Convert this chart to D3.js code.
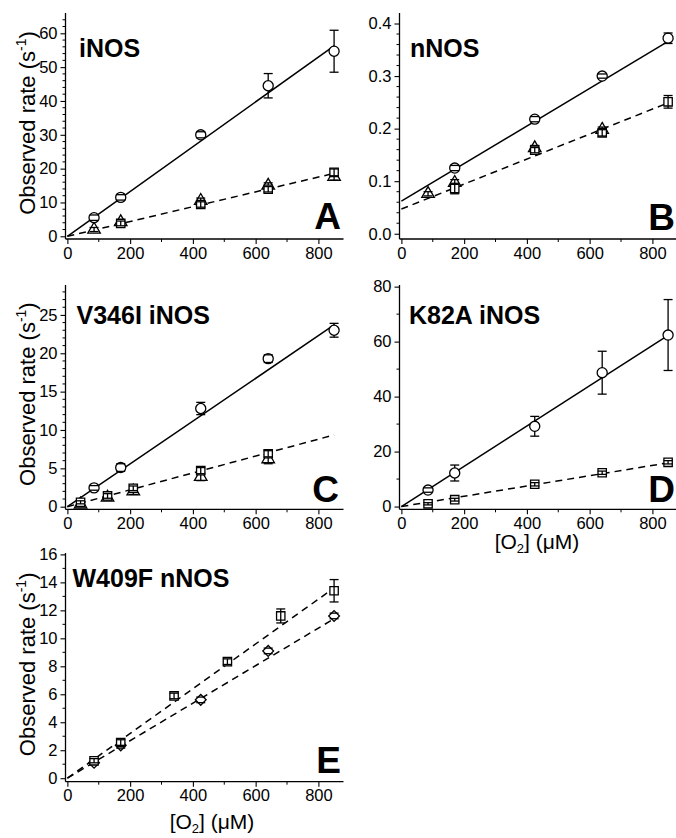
<!DOCTYPE html>
<html><head><meta charset="utf-8">
<script src="https://cdn.jsdelivr.net/npm/d3@7"></script>
<style>
body{margin:0;background:#fff}
svg{display:block}
text{font-family:"Liberation Sans",Arial,Helvetica,sans-serif;fill:#000}
</style>
</head><body>
<svg id="chart" width="676" height="838"></svg>
<script>
// ---------------- DATA ----------------
const xTickValues = [0, 200, 400, 600, 800];
const panelTitles = ["iNOS", "nNOS", "V346I iNOS", "K82A iNOS", "W409F nNOS"];
const panelLetters = ["A", "B", "C", "D", "E"];

// Panel A – iNOS
const A_circ_x = [85, 170, 425, 640, 850];
const A_circ_y = [5.5, 11.5, 30.0, 44.5, 54.7];
const A_circ_e = [0.8, 0.8, 0.9, 3.6, 6.2];
const A_tri_x = [85, 170, 425, 640, 850];
const A_tri_y = [2.0, 4.2, 10.5, 15.0, 17.6];
const A_tri_e = [0.6, 0.6, 0.8, 0.8, 1.0];
const A_sq_x = [170, 425, 640, 850];
const A_sq_y = [3.8, 9.4, 13.9, 18.9];
const A_sq_e = [0.7, 0.8, 0.8, 1.0];
const A_fitSolid = [[0, 0], [850, 56.3]];
const A_fitDash = [[0, 0], [850, 18.6]];

// Panel B – nNOS
const B_circ_x = [170, 425, 640, 850];
const B_circ_y = [0.125, 0.218, 0.300, 0.372];
const B_circ_e = [0.005, 0.005, 0.004, 0.010];
const B_tri_x = [85, 170, 425, 640];
const B_tri_y = [0.076, 0.097, 0.163, 0.198];
const B_tri_e = [0.004, 0.006, 0.005, 0.005];
const B_sq_x = [170, 425, 640, 850];
const B_sq_y = [0.086, 0.159, 0.192, 0.251];
const B_sq_e = [0.010, 0.005, 0.006, 0.012];
const B_fitSolid = [[0, 0.062], [850, 0.366]];
const B_fitDash = [[0, 0.047], [850, 0.249]];

// Panel C – V346I iNOS
const C_circ_x = [85, 170, 425, 640, 850];
const C_circ_y = [2.45, 5.1, 12.8, 19.3, 23.0];
const C_circ_e = [0.3, 0.5, 0.8, 0.5, 0.9];
const C_sq_x = [42, 128, 210, 425, 640];
const C_sq_y = [0.57, 1.4, 2.4, 4.7, 6.9];
const C_sq_e = [0.2, 0.3, 0.3, 0.4, 0.4];
const C_tri_x = [42, 128, 210, 425, 640];
const C_tri_y = [0.3, 1.2, 2.0, 3.9, 6.2];
const C_tri_e = [0.2, 0.3, 0.4, 0.5, 0.6];
const C_fitSolid = [[0, 0], [850, 23.7]];
const C_fitDash = [[0, 0], [850, 9.35]];

// Panel D – K82A iNOS
const D_circ_x = [85, 170, 425, 640, 850];
const D_circ_y = [6.0, 12.2, 29.2, 48.7, 62.4];
const D_circ_e = [0.8, 2.9, 3.6, 7.8, 12.9];
const D_sq_x = [85, 170, 425, 640, 850];
const D_sq_y = [1.0, 2.5, 8.1, 12.3, 16.1];
const D_sq_e = [0.4, 0.5, 0.6, 0.6, 0.6];
const D_fitSolid = [[0, 0], [850, 62.3]];
const D_fitDash = [[0, 0], [850, 15.9]];

// Panel E – W409F nNOS
const E_sq_x = [85, 170, 340, 510, 680, 850];
const E_sq_y = [1.25, 2.55, 5.88, 8.33, 11.6, 13.4];
const E_sq_e = [0.15, 0.2, 0.2, 0.2, 0.5, 0.8];
const E_dia_x = [85, 170, 425, 640, 850];
const E_dia_y = [1.1, 2.35, 5.6, 9.1, 11.6];
const E_dia_e = [0.15, 0.2, 0.2, 0.2, 0.2];
const E_fitDashHi = [[0, 0], [850, 13.6]];
const E_fitDashLo = [[0, 0], [850, 11.4]];

// Axis tick values
const A_yTicks = [0, 10, 20, 30, 40, 50, 60];
const B_yTicks = [0, 0.1, 0.2, 0.3, 0.4];
const C_yTicks = [0, 5, 10, 15, 20, 25];
const D_yTicks = [0, 20, 40, 60, 80];
const E_yTicks = [0, 2, 4, 6, 8, 10, 12, 14, 16];

// ---------------- BUILD ----------------
const zip = (xs, ys, es) => xs.map((x, i) => ({x, y: ys[i], e: es[i]}));

const panels = [
  {title: panelTitles[0], letter: panelLetters[0],
   xr: [65.5, 343.5], yr: [239, 13], yd: [-0.8, 66],
   yTicks: A_yTicks, yMinor: 2, yFmt: d3.format("d"),
   fits: [{pts: A_fitSolid, dash: false}, {pts: A_fitDash, dash: true}],
   series: [
     {shape: "triangle", d: zip(A_tri_x, A_tri_y, A_tri_e)},
     {shape: "square", d: zip(A_sq_x, A_sq_y, A_sq_e)},
     {shape: "circle", d: zip(A_circ_x, A_circ_y, A_circ_e)}],
   titlePos: [79, 57], letterPos: [341, 229], ylab: true, xlab: null},
  {title: panelTitles[1], letter: panelLetters[1],
   xr: [399.5, 677.5], yr: [239, 13], yd: [-0.01, 0.42],
   yTicks: B_yTicks, yMinor: 0.02, yFmt: d3.format(".1f"),
   fits: [{pts: B_fitSolid, dash: false}, {pts: B_fitDash, dash: true}],
   series: [
     {shape: "triangle", d: zip(B_tri_x, B_tri_y, B_tri_e)},
     {shape: "square", d: zip(B_sq_x, B_sq_y, B_sq_e)},
     {shape: "circle", d: zip(B_circ_x, B_circ_y, B_circ_e)}],
   titlePos: [410, 57], letterPos: [675, 230], ylab: false, xlab: null},
  {title: panelTitles[2], letter: panelLetters[2],
   xr: [65.5, 343.5], yr: [509.3, 285], yd: [-0.34, 28.9],
   yTicks: C_yTicks, yMinor: 1, yFmt: d3.format("d"),
   fits: [{pts: C_fitSolid, dash: false}, {pts: C_fitDash, dash: true}],
   series: [
     {shape: "triangle", d: zip(C_tri_x, C_tri_y, C_tri_e)},
     {shape: "square", d: zip(C_sq_x, C_sq_y, C_sq_e)},
     {shape: "circle", d: zip(C_circ_x, C_circ_y, C_circ_e)}],
   titlePos: [76.5, 323.5], letterPos: [339, 502], ylab: true, xlab: null},
  {title: panelTitles[3], letter: panelLetters[3],
   xr: [399.5, 677.5], yr: [509.3, 285], yd: [-1, 80.6],
   yTicks: D_yTicks, yMinor: 10, yFmt: d3.format("d"),
   fits: [{pts: D_fitSolid, dash: false}, {pts: D_fitDash, dash: true}],
   series: [
     {shape: "square", d: zip(D_sq_x, D_sq_y, D_sq_e)},
     {shape: "circle", d: zip(D_circ_x, D_circ_y, D_circ_e)}],
   titlePos: [409, 323.5], letterPos: [675, 501.5], ylab: false, xlab: [537, 549]},
  {title: panelTitles[4], letter: panelLetters[4],
   xr: [65.5, 343.5], yr: [781.7, 553], yd: [-0.25, 16.1],
   yTicks: E_yTicks, yMinor: 1, yFmt: d3.format("d"),
   fits: [{pts: E_fitDashHi, dash: true}, {pts: E_fitDashLo, dash: true}],
   series: [
     {shape: "diamond", d: zip(E_dia_x, E_dia_y, E_dia_e)},
     {shape: "square", d: zip(E_sq_x, E_sq_y, E_sq_e)}],
   titlePos: [72.5, 587], letterPos: [341, 773], ylab: true, xlab: [212, 829]}
];

const svg = d3.select("#chart");
const symbolOf = {
  circle: d3.symbol().type(d3.symbolCircle).size(80),
  triangle: d3.symbol().type(d3.symbolTriangle).size(68),
  square: d3.symbol().type(d3.symbolSquare).size(70),
  diamond: d3.symbol().type(d3.symbolSquare).size(58)
};
const capHalf = 4.5;
const sw = 1.3;

panels.forEach(p => {
  const x = d3.scaleLinear().domain([-6, 880]).range(p.xr);
  const y = d3.scaleLinear().domain(p.yd).range(p.yr);
  const g = svg.append("g");

  // x axis
  const xMinor = d3.range(100, 880, 200);
  const xAxis = g.append("g").attr("transform", `translate(0,${p.yr[0]})`)
    .call(d3.axisBottom(x).tickValues(xTickValues).tickSize(5).tickPadding(3).tickFormat(d3.format("d")));
  xAxis.select(".domain").attr("stroke-width", 1.3).attr("d", `M${p.xr[0]},0H${p.xr[1]}`);
  xAxis.selectAll(".tick line").attr("stroke-width", 1.1);
  xAxis.selectAll(".tick text").attr("font-size", 16.5).attr("font-family", "Liberation Sans, Arial, sans-serif");
  g.append("g").selectAll("line").data(xMinor).join("line")
    .attr("x1", d => x(d)).attr("x2", d => x(d))
    .attr("y1", p.yr[0]).attr("y2", p.yr[0] + 3).attr("stroke", "#000").attr("stroke-width", 1);

  // y axis
  const yMinor = d3.range(p.yTicks[0], p.yd[1], p.yMinor).filter(v => !p.yTicks.some(t => Math.abs(t - v) < 1e-9));
  const yAxis = g.append("g").attr("transform", `translate(${p.xr[0]},0)`)
    .call(d3.axisLeft(y).tickValues(p.yTicks).tickSize(5).tickPadding(3).tickFormat(p.yFmt));
  yAxis.select(".domain").attr("stroke-width", 1.3).attr("d", `M0,${p.yr[0]}V${p.yr[1]}`);
  yAxis.selectAll(".tick line").attr("stroke-width", 1.1);
  yAxis.selectAll(".tick text").attr("font-size", 16.5).attr("font-family", "Liberation Sans, Arial, sans-serif");
  g.append("g").selectAll("line").data(yMinor).join("line")
    .attr("x1", p.xr[0]).attr("x2", p.xr[0] - 3)
    .attr("y1", d => y(d)).attr("y2", d => y(d)).attr("stroke", "#000").attr("stroke-width", 1);

  // fit lines
  const line = d3.line().x(d => x(d[0])).y(d => y(d[1]));
  p.fits.forEach(f => {
    g.append("path").attr("d", line(f.pts)).attr("fill", "none").attr("stroke", "#000")
      .attr("stroke-width", 1.5).attr("stroke-dasharray", f.dash ? "7,5" : null);
  });

  // series
  p.series.forEach(s => {
    const sg = g.append("g");
    const inside = (s.shape === "square" || s.shape === "triangle");
    const rot = s.shape === "diamond" ? " rotate(45)" : "";
    if (!inside) {
      sg.selectAll(".stem").data(s.d).join("line").attr("class", "stem")
        .attr("x1", d => x(d.x)).attr("x2", d => x(d.x))
        .attr("y1", d => y(d.y - d.e)).attr("y2", d => y(d.y + d.e))
        .attr("stroke", "#000").attr("stroke-width", sw);
    }
    sg.selectAll("path.mk").data(s.d).join("path").attr("class", "mk")
      .attr("d", symbolOf[s.shape]())
      .attr("transform", d => `translate(${x(d.x)},${y(d.y)})${rot}`)
      .attr("fill", "#fff").attr("stroke", "#000").attr("stroke-width", sw);
    if (inside) {
      sg.selectAll(".stem2").data(s.d).join("line").attr("class", "stem2")
        .attr("x1", d => x(d.x)).attr("x2", d => x(d.x))
        .attr("y1", d => y(d.y - d.e)).attr("y2", d => y(d.y + d.e))
        .attr("stroke", "#000").attr("stroke-width", sw);
    }
    ["+", "-"].forEach(sign => {
      const cls = "cap" + (sign === "+" ? "u" : "l");
      sg.selectAll("." + cls).data(s.d).join("line").attr("class", cls)
        .attr("x1", d => x(d.x) - capHalf).attr("x2", d => x(d.x) + capHalf)
        .attr("y1", d => y(sign === "+" ? d.y + d.e : d.y - d.e))
        .attr("y2", d => y(sign === "+" ? d.y + d.e : d.y - d.e))
        .attr("stroke", "#000").attr("stroke-width", sw);
    });
  });

  // title
  g.append("text").attr("x", p.titlePos[0]).attr("y", p.titlePos[1])
    .attr("font-size", 25).attr("font-weight", "bold").text(p.title);
  // letter
  g.append("text").attr("x", p.letterPos[0]).attr("y", p.letterPos[1])
    .attr("font-size", 37).attr("font-weight", "bold").attr("text-anchor", "end").text(p.letter);

  // y label
  if (p.ylab) {
    const cy = (p.yr[0] + p.yr[1]) / 2 - 3;
    const t = g.append("text").attr("transform", `translate(35,${cy}) rotate(-90)`)
      .attr("text-anchor", "middle").attr("font-size", 22);
    t.append("tspan").text("Observed rate (s");
    t.append("tspan").attr("font-size", 14).attr("dy", -9).text("-1");
    t.append("tspan").attr("dy", 9).text(")");
  }
  // x label
  if (p.xlab) {
    const t = g.append("text").attr("x", p.xlab[0]).attr("y", p.xlab[1])
      .attr("text-anchor", "middle").attr("font-size", 21);
    t.append("tspan").text("[O");
    t.append("tspan").attr("font-size", 13).attr("dy", 4).text("2");
    t.append("tspan").attr("dy", -4).text("] (\u03bcM)");
  }
});
</script>
</body></html>
